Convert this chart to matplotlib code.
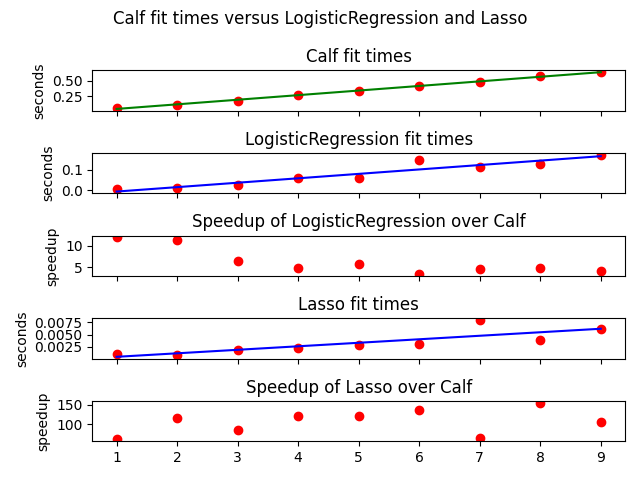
import matplotlib
matplotlib.use('Agg')
import matplotlib.pyplot as plt
import numpy as np

# number of features / problem index
sizes = [1, 2, 3, 4, 5, 6, 7, 8, 9]

calf_times = [0.071, 0.115, 0.175, 0.278, 0.338, 0.424, 0.484, 0.581, 0.640]
lr_times = [0.007, 0.010, 0.025, 0.061, 0.059, 0.147, 0.114, 0.131, 0.174]
lr_speedup = [11.9, 11.2, 6.5, 4.86, 5.8, 3.36, 4.46, 4.86, 4.06]
lasso_times = [0.00088, 0.00081, 0.0018, 0.0022, 0.0029, 0.0031, 0.0080, 0.0038, 0.0062]
lasso_speedup = [61.5, 116, 86.6, 121, 121, 136, 64, 155, 106]


def fit_line(x, y):
    """ least squares line through the points """
    m, b = np.polyfit(x, y, 1)
    return np.polyval([m, b], x)


x = np.array(sizes)
f, axs = plt.subplots(5, 1, sharex=True, figsize=(6.4, 4.8))
f.suptitle('Calf fit times versus LogisticRegression and Lasso')

axs[0].plot(x, calf_times, 'ro')
axs[0].plot(x, fit_line(x, calf_times), 'g')
axs[0].set_title('Calf fit times')
axs[0].set_ylabel('seconds')

axs[1].plot(x, lr_times, 'ro')
axs[1].plot(x, fit_line(x, lr_times), 'b')
axs[1].set_title('LogisticRegression fit times')
axs[1].set_ylabel('seconds')

axs[2].plot(x, lr_speedup, 'ro')
axs[2].set_title('Speedup of LogisticRegression over Calf')
axs[2].set_ylabel('speedup')

axs[3].plot(x, lasso_times, 'ro')
axs[3].plot(x, fit_line(x, lasso_times), 'b')
axs[3].set_title('Lasso fit times')
axs[3].set_ylabel('seconds')

axs[4].plot(x, lasso_speedup, 'ro')
axs[4].set_title('Speedup of Lasso over Calf')
axs[4].set_ylabel('speedup')

plt.tight_layout()
plt.savefig('out.png', dpi=100)
